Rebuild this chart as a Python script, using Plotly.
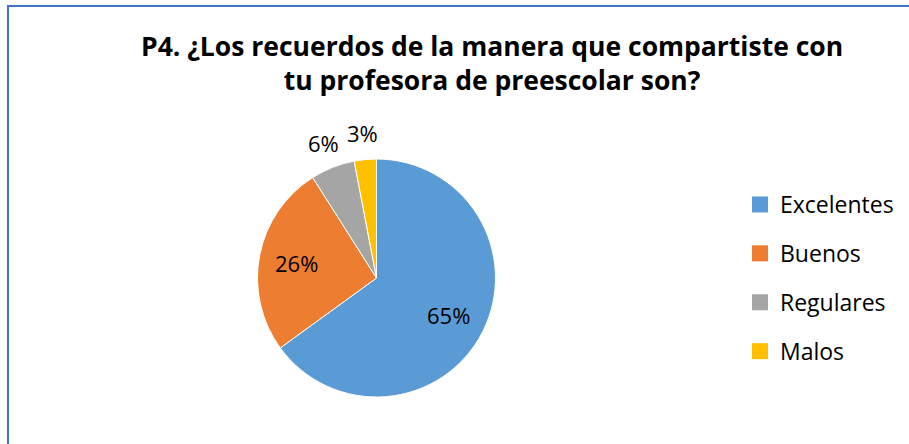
import math
import plotly.graph_objects as go

categories = ["Excelentes", "Buenos", "Regulares", "Malos"]
values = [65, 26, 6, 3]
colors = ["#5B9BD5", "#ED7D31", "#A5A5A5", "#FFC000"]
title_text = "P4. ¿Los recuerdos de la manera que compartiste con<br>tu profesora de preescolar son?"

W, H = 909, 444
FONT = "'Open Sans', sans-serif"
LBL = 22

# pie placement (pixels)
px0, px1, py0, py1 = 257, 496, 159, 397
cx, cy, r = (px0 + px1) / 2, (py0 + py1) / 2, (px1 - px0) / 2

inside = [True, True, False, False]
total = sum(values)
texts = [f"{round(100 * v / total)}%" for v in values]

fig = go.Figure()
fig.add_trace(go.Pie(
    labels=categories, values=values, sort=False, direction="clockwise", rotation=0,
    marker=dict(colors=colors, line=dict(color="white", width=1)),
    textinfo="none",
    domain=dict(x=[px0 / W, px1 / W], y=[1 - py1 / H, 1 - py0 / H]),
    showlegend=False, hoverinfo="label+percent",
))
for c, col in zip(categories, colors):
    fig.add_trace(go.Scatter(
        x=[None], y=[None], mode="markers", name=c, legendgroup=c,
        marker=dict(symbol="square", size=16, color=col), showlegend=True,
    ))

annotations = [dict(text="<b>" + title_text + "</b>", x=492 / W, y=1 - 26 / H,
                    xref="paper", yref="paper", xanchor="center", yanchor="top",
                    showarrow=False, font=dict(size=26.5, family=FONT, color="black"),
                    align="center")]
# data labels placed radially from each slice's mid-angle
cum = 0
for v, t, ins in zip(values, texts, inside):
    mid = (cum + v / 2) / total * 2 * math.pi
    cum += v
    f = 0.68 if ins else 1.215
    lx = cx + f * r * math.sin(mid)
    ly = cy - f * r * math.cos(mid)
    annotations.append(dict(text=t, x=lx / W, y=1 - ly / H, xref="paper", yref="paper",
                            xanchor="center", yanchor="middle", showarrow=False,
                            font=dict(size=LBL, family=FONT, color="black")))

fig.update_layout(
    width=W, height=H, margin=dict(l=0, r=0, t=0, b=0),
    paper_bgcolor="white", plot_bgcolor="white",
    xaxis=dict(visible=False), yaxis=dict(visible=False),
    font=dict(family=FONT, color="black"),
    legend=dict(x=740 / W, y=1 - 183 / H, xanchor="left", yanchor="top",
                font=dict(size=23, family=FONT), tracegroupgap=16,
                bgcolor="rgba(0,0,0,0)"),
    annotations=annotations,
    shapes=[dict(type="rect", xref="paper", yref="paper", x0=8 / W, x1=1.05,
                 y0=-0.05, y1=1 - 6 / H, line=dict(color="#4472C4", width=2))],
)
fig.write_html("out.html", config={"displayModeBar": False},
               post_script="document.body.style.margin='0';document.body.style.overflow='hidden';")
